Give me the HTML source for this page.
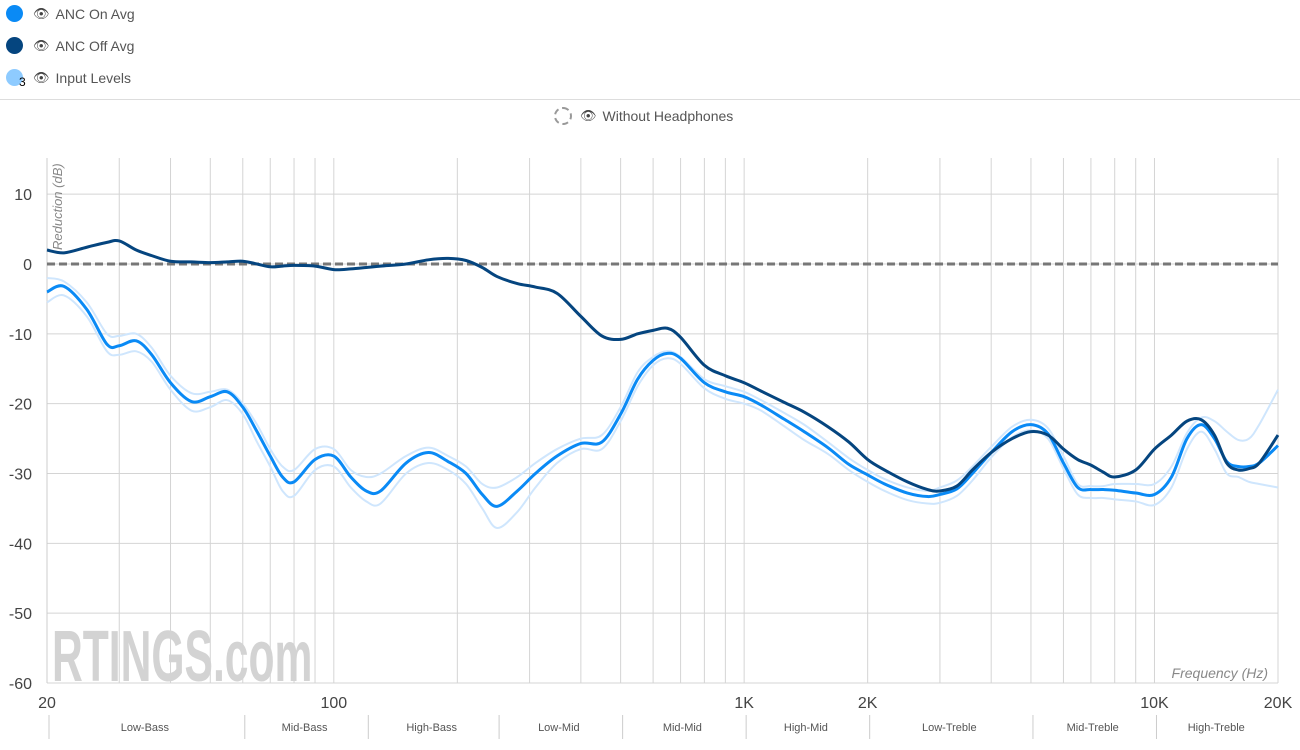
<!DOCTYPE html>
<html><head><meta charset="utf-8"><style>
body{margin:0;width:1300px;height:750px;background:#fff;overflow:hidden;font-family:"Liberation Sans",sans-serif;}
.leg{position:absolute;left:6px;font-size:14px;color:#555;display:flex;align-items:center;}
.dot{width:17px;height:17px;border-radius:50%;margin-right:10px;}
.eye{font-size:13px;color:#444;margin-right:6px;}
</style></head><body>
<div class="leg" style="top:5px"><div class="dot" style="background:#0a8af5"></div><span class="eye">👁</span>ANC On Avg</div>
<div class="leg" style="top:37px"><div class="dot" style="background:#05457f"></div><span class="eye">👁</span>ANC Off Avg</div>
<div class="leg" style="top:69px"><div class="dot" style="background:#8ecbff;position:relative"><span style="position:absolute;left:13px;top:6px;font-size:12px;color:#000">3</span></div><span class="eye">👁</span>Input Levels</div>
<div style="position:absolute;left:0;top:99px;width:1300px;height:1px;background:#ddd"></div>
<div class="leg" style="top:107px;left:554px"><div class="dot" style="border:2px dashed #999;width:14px;height:14px;margin-right:8px"></div><span class="eye">👁</span>Without Headphones</div>
<svg id="chart" width="1300" height="750" style="position:absolute;left:0;top:0"></svg>
<script>
const freqs=[20,22,25,28,30,33,36,40,45,50,55,60,65,70,75,80,90,100,110,120,130,150,170,190,210,230,250,280,310,350,400,450,500,550,600,650,700,800,900,1000,1100,1250,1400,1600,1800,2000,2200,2500,2800,3000,3300,3600,4000,4500,5000,5500,6000,6500,7000,7500,8000,9000,10000,11000,12000,13000,14000,15000,16000,17000,18000,20000];
const ancOn=[-4,-3.2,-6.5,-11.5,-11.7,-11,-13,-17,-19.7,-19,-18.3,-20.5,-24,-27.5,-30.5,-31.2,-28,-27.5,-30.5,-32.5,-32.5,-28.5,-27,-28.3,-30,-33,-34.7,-32.5,-30,-27.5,-25.7,-25.5,-21.5,-16.5,-13.8,-12.8,-13.5,-17,-18.3,-19,-20.2,-22.2,-24,-26.3,-28.7,-30.2,-31.5,-32.8,-33.3,-33,-32.2,-30,-27,-24,-23,-24.3,-28.5,-32,-32.3,-32.3,-32.4,-32.8,-33,-30.5,-25,-23,-25,-28.3,-29,-29,-28.5,-26];
const ancOff=[2,1.6,2.4,3.1,3.3,2,1.2,0.4,0.3,0.2,0.3,0.4,0,-0.4,-0.3,-0.2,-0.3,-0.8,-0.7,-0.5,-0.3,0,0.6,0.8,0.5,-0.5,-1.8,-2.8,-3.3,-4.2,-7.5,-10.3,-10.8,-10,-9.5,-9.2,-10.5,-14.5,-16,-17,-18.2,-19.8,-21.2,-23.3,-25.5,-28,-29.5,-31.2,-32.3,-32.5,-31.8,-29.5,-27,-25,-24,-24.5,-26.5,-28,-28.8,-29.8,-30.5,-29.5,-26.5,-24.5,-22.5,-22.3,-24.5,-28.5,-29.5,-29.3,-28.5,-24.5];
const inputA=[-2,-2.5,-5.5,-10,-10.3,-10,-12,-16,-18.5,-18.3,-18,-20,-23,-26.5,-29,-29.5,-26.5,-26.5,-29.5,-30.5,-30,-27.5,-26.3,-27.5,-29,-31.5,-32,-30.5,-28.5,-26.5,-25,-24.5,-20.5,-15.5,-13.3,-12.5,-13.3,-16.5,-17.5,-18.3,-19.5,-21.3,-23,-25.5,-27.8,-29.5,-30.8,-32,-32.5,-32,-31,-29,-26.2,-23.3,-22.3,-23.5,-27.5,-31.5,-31.8,-31.8,-31.5,-31.5,-31.5,-29,-24.2,-22,-22.5,-24,-25.2,-25,-23,-18];
const inputB=[-5.5,-4.5,-7.5,-12.5,-13,-12.5,-14,-18,-21,-20.5,-19.5,-21.5,-25.5,-29,-32.5,-33.2,-29.5,-29,-32,-34,-34.3,-30,-28.5,-29.5,-31.5,-35,-37.8,-35.5,-32,-28.5,-26.5,-26.5,-22.5,-17.5,-14.5,-13.5,-14.3,-17.8,-19.3,-20,-21,-23.2,-25.2,-27.2,-29.5,-31.2,-32.5,-33.8,-34.3,-34.2,-33.2,-31,-27.7,-24.8,-23.8,-25,-29.3,-33,-33.5,-33.5,-33.7,-34,-34.5,-32,-26.5,-24,-26.5,-30,-30.5,-31.2,-31.5,-32];
const yTicks=[10,0,-10,-20,-30,-40,-50,-60];
const xLabels=[[20,"20"],[100,"100"],[1000,"1K"],[2000,"2K"],[10000,"10K"],[20000,"20K"]];
const gridF=[30,40,50,60,70,80,90,100,200,300,400,500,600,700,800,900,1000,2000,3000,4000,5000,6000,7000,8000,9000,10000,20000];
const bands=[["Low-Bass",20,60],["Mid-Bass",60,120],["High-Bass",120,250],["Low-Mid",250,500],["Mid-Mid",500,1000],["High-Mid",1000,2000],["Low-Treble",2000,5000],["Mid-Treble",5000,10000],["High-Treble",10000,20000]];
const X0=47,X1=1278,Y0=158,Y1=683;
const xs=f=>X0+(X1-X0)*Math.log10(f/20)/3;
const ys=v=>264-v*(683-264)/60;
const svg=document.getElementById('chart');const NS="http://www.w3.org/2000/svg";
function mk(t,a,p){const e=document.createElementNS(NS,t);for(const k in a)e.setAttribute(k,a[k]);(p||svg).appendChild(e);return e;}
for(const v of yTicks){const l=mk('line',{x1:X0,x2:X1,y1:ys(v),y2:ys(v),stroke:'#d4d4d4'});


const t=mk('text',{x:32,y:ys(v)+6,'text-anchor':'end','font-size':16,fill:'#444'});t.textContent=v;

}
for(const f of gridF){const l=mk('line',{x1:xs(f),x2:xs(f),y1:Y0,y2:Y1,stroke:'#d4d4d4'});

}
const lx=mk('line',{x1:X0,x2:X0,y1:Y0,y2:Y1,stroke:'#ccc'});


const wm=mk('text',{x:0,y:0,transform:'translate(52,681) scale(0.62,1)','font-size':72,'font-weight':'bold',fill:'#d3d3d3',textLength:420,lengthAdjust:'spacingAndGlyphs'});wm.textContent='RTINGS.com';


for(const [f,s] of xLabels){const t=mk('text',{x:xs(f),y:708,'text-anchor':'middle','font-size':16,fill:'#444'});t.textContent=s;

}
for(const [n,a,b] of bands){const d=mk('line',{x1:xs(a)+2,x2:xs(a)+2,y1:715,y2:739,stroke:'#ccc'});


const t=mk('text',{x:(xs(a)+xs(b))/2,y:731,'text-anchor':'middle','font-size':11,fill:'#555'});t.textContent=n;

}
const yt=mk('text',{x:0,y:0,transform:'translate(62,250) rotate(-90)','font-size':13,'font-style':'italic',fill:'#888'});yt.textContent='Reduction (dB)';


const xt=mk('text',{x:1268,y:678,'text-anchor':'end','font-size':14,'font-style':'italic',fill:'#888'});xt.textContent='Frequency (Hz)';


function pathFor(vals){const p=freqs.map((f,i)=>[xs(f),ys(vals[i])]);let d=`M${p[0][0]},${p[0][1]}`;
for(let i=0;i<p.length-1;i++){const a=p[Math.max(0,i-1)],b=p[i],c=p[i+1],e=p[Math.min(p.length-1,i+2)];
d+=` C${b[0]+(c[0]-a[0])/6},${b[1]+(c[1]-a[1])/6} ${c[0]-(e[0]-b[0])/6},${c[1]-(e[1]-b[1])/6} ${c[0]},${c[1]}`;}return d;}
const ia=mk('path',{d:pathFor(inputA),fill:'none',stroke:'#cfe6fd','stroke-width':2});


const ib=mk('path',{d:pathFor(inputB),fill:'none',stroke:'#cfe6fd','stroke-width':2});


const z=mk('line',{x1:X0,x2:X1,y1:ys(0),y2:ys(0),stroke:'#777','stroke-width':3,'stroke-dasharray':'8,4'});


const on=mk('path',{d:pathFor(ancOn),fill:'none',stroke:'#0a8af5','stroke-width':3});


const off=mk('path',{d:pathFor(ancOff),fill:'none',stroke:'#05457f','stroke-width':3});


</script>
</body></html>
